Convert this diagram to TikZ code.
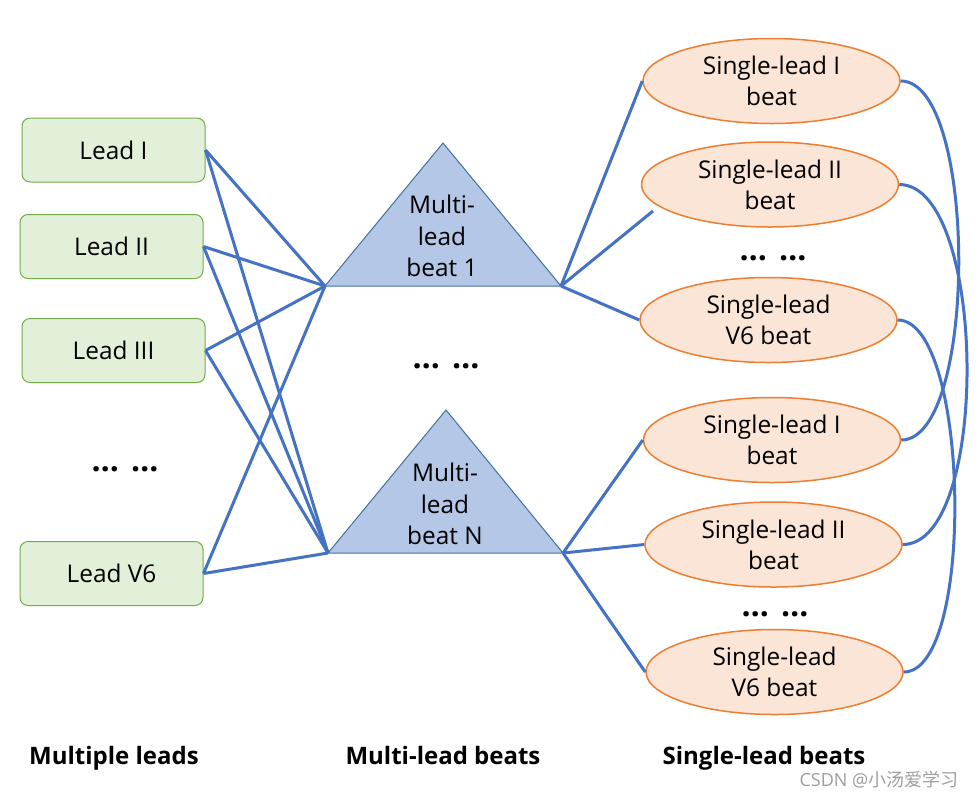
\documentclass[tikz,border=0pt]{standalone}
\usepackage{fontspec}
\setmainfont{Open Sans}
\newfontfamily\cjkfont{Noto Sans CJK SC}
\usepackage{tikz}
\usetikzlibrary{shapes.geometric}
\definecolor{linkblue}{HTML}{4472C4}
\definecolor{trifill}{HTML}{B4C7E7}
\definecolor{tridraw}{HTML}{41719C}
\definecolor{leadfill}{HTML}{E2F0D9}
\definecolor{leaddraw}{HTML}{70AD47}
\definecolor{beatfill}{HTML}{FBE5D6}
\definecolor{beatdraw}{HTML}{ED7D31}

\begin{document}
\begin{tikzpicture}[x=0.5pt,y=-0.5pt,
  every node/.style={align=center,font=\fontsize{12.2}{15.6}\selectfont,inner sep=0pt},
  lead/.style={draw=leaddraw,fill=leadfill,rounded corners=4pt,minimum width=91.5pt,minimum height=32pt,line width=0.5pt},
  beat/.style={draw=beatdraw,fill=beatfill,ellipse,minimum width=128.5pt,minimum height=42.5pt,line width=0.75pt},
  tri/.style={draw=tridraw,fill=trifill,line width=0.5pt},
  link/.style={draw=linkblue,line width=1.5pt},
  caption/.style={anchor=base,font=\fontsize{12}{14}\bfseries\selectfont},
  dotsrow/.style={anchor=base,font=\fontsize{16}{18}\bfseries\selectfont}]
  \useasboundingbox (0,0) rectangle (978,798);
  % leads
  \node[lead] (lead1) at (113.5,150) {Lead I};
  \node[lead] (lead2) at (111.5,246.5) {Lead II};
  \node[lead] (lead3) at (113.5,350.5) {Lead III};
  \node[dotsrow] (dotsL) at (125,471) {…\hspace{6pt}…};
  \node[lead] (lead6) at (111.5,573.5) {Lead V6};
  % multi-lead beats
  \coordinate (m1top) at (443,143); \coordinate (m1l) at (325,286); \coordinate (m1r) at (561,286);
  \coordinate (mNtop) at (446,410); \coordinate (mNl) at (328,553); \coordinate (mNr) at (563,553);
  \draw[tri] (m1top)--(m1r)--(m1l)--cycle;
  \draw[tri] (mNtop)--(mNr)--(mNl)--cycle;
  \node (m1) at (442,236) {Multi-\\lead\\beat 1};
  \node (mN) at (445,504) {Multi-\\lead\\beat N};
  \node[dotsrow] (dotsM) at (446,368) {…\hspace{6pt}…};
  % single-lead beats
  \node[beat] (s1) at (771.5,81) {Single-lead I\\beat};
  \node[beat] (s2) at (770,184.5) {Single-lead II\\beat};
  \node[dotsrow] (dotsR1) at (773,260) {…\hspace{6pt}…};
  \node[beat] (s6) at (768.5,320) {Single-lead\\V6 beat};
  \node[beat] (s1N) at (772,440) {Single-lead I\\beat};
  \node[beat] (s2N) at (773.5,544.5) {Single-lead II\\beat};
  \node[dotsrow] (dotsR2) at (775,616) {…\hspace{6pt}…};
  \node[beat] (s6N) at (774.5,672) {Single-lead\\V6 beat};
  \coordinate (s2end) at (653,211);
  % captions
  \node[caption] (capL) at (114,764) {Multiple leads};
  \node[caption] (capM) at (443,764) {Multi-lead beats};
  \node[caption] (capR) at (764,764) {Single-lead beats};
  \node[font=\fontsize{9}{11}\selectfont,text=black!38] (mark) at (879,780) {CSDN @\cjkfont 小汤爱学习};
  % links
  \draw[link] (lead1.east)--(m1l); \draw[link] (lead1.east)--(mNl);
  \draw[link] (lead2.east)--(m1l); \draw[link] (lead2.east)--(mNl);
  \draw[link] (lead3.east)--(m1l); \draw[link] (lead3.east)--(mNl);
  \draw[link] (lead6.east)--(m1l); \draw[link] (lead6.east)--(mNl);
  \draw[link] (m1r)--(s1.west); \draw[link] (m1r)--(s2end); \draw[link] (m1r)--(s6.west);
  \draw[link] (mNr)--(s1N.west); \draw[link] (mNr)--(s2N.west); \draw[link] (mNr)--(s6N.west);
  \draw[link] (s1.east) .. controls +(77,0) and +(77,0) .. (s1N.east);
  \draw[link] (s2.east) .. controls +(88,0) and +(88,0) .. (s2N.east);
  \draw[link] (s6.east) .. controls +(72,0) and +(72,0) .. (s6N.east);
\end{tikzpicture}
\end{document}
